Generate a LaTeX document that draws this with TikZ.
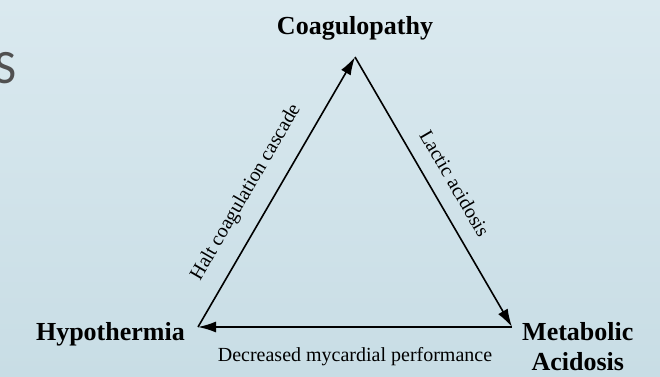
\documentclass[tikz,border=0pt]{standalone}
\usepackage{fontspec}
\setmainfont{Liberation Serif}
\newfontfamily\slidefont{Carlito}
\usepackage{xcolor}
\usetikzlibrary{arrows.meta,positioning}
\definecolor{SlideTop}{HTML}{DAE9EF}
\definecolor{SlideBottom}{HTML}{C8DDE5}
\definecolor{SlideGray}{HTML}{505050}

\begin{document}
\begin{tikzpicture}[x=1pt,y=1pt,
  corner/.style={font=\bfseries\fontsize{26}{28}\selectfont,inner sep=0pt},
  cause/.style={font=\fontsize{20}{22}\selectfont,inner sep=0pt},
  link/.style={-{Latex[length=18pt,width=11pt]},line width=1.6pt}]
% slide background
\shade[top color=SlideTop,bottom color=SlideBottom] (0,0) rectangle (660,376);
\useasboundingbox (0,0) rectangle (660,376);
\node[font=\slidefont\fontsize{48}{48}\selectfont,text=SlideGray,anchor=base west,inner sep=0pt] (title) at (-6,293) {S};
% corners of the triad
\coordinate (c) at (355,319);
\coordinate (h) at (198,49);
\coordinate (m) at (512,49);
\node[corner,anchor=base] (coag) at ([yshift=23pt]c) {Coagulopathy};
\node[corner,anchor=base east] (hypo) at ([xshift=-13pt,yshift=-13pt]h) {Hypothermia};
\node[corner,anchor=base west] (metab) at ([xshift=10pt,yshift=-13pt]m) {Metabolic};
\node[corner,anchor=base] (acid) at ([yshift=-30pt]metab.base) {Acidosis};
% arrows with their causes
\draw[link] (h) -- node[cause,sloped,above=16pt,pos=.45] (halt) {Halt coagulation cascade} (c);
\draw[link] (c) -- node[cause,sloped,above=15pt,pos=.51] (lactic) {Lactic acidosis} (m);
\draw[link] (m) -- node[cause,below=20pt] (perf) {Decreased mycardial performance} (h);
\end{tikzpicture}
\end{document}
